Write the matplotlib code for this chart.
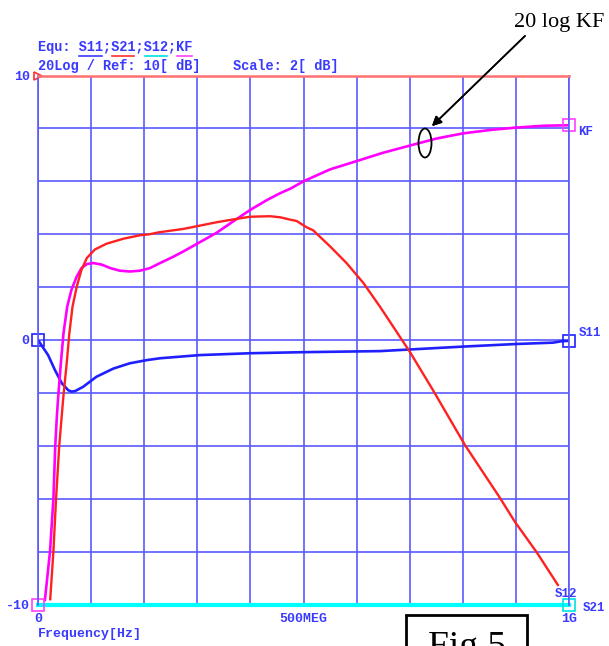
import matplotlib
matplotlib.use("Agg")
import matplotlib.pyplot as plt
from matplotlib.lines import Line2D
from matplotlib.patches import Ellipse, Rectangle

# traces (freq in MHz, level in dB)
s21_freq = [23, 29, 34, 40, 47.7, 54, 59, 65, 73, 82, 92, 107, 129, 161, 192, 211, 227,
            274, 336, 368, 399, 437, 456, 475, 487, 506, 518, 550, 581, 613, 644, 700,
            744, 804, 870, 898, 940, 979]
s21_db = [-9.8, -8.0, -6.0, -4.0, -2.15, -0.89, 0.25, 1.26, 2.02, 2.66, 3.1, 3.42, 3.64,
          3.83, 3.96, 4.0, 4.07, 4.2, 4.45, 4.56, 4.66, 4.68, 4.64, 4.55, 4.5, 4.26, 4.15,
          3.54, 2.91, 2.15, 1.26, -0.44, -1.9, -3.97, -5.97, -6.87, -8.05, -9.26]

kf_freq = [13, 22.6, 29, 32.5, 35.5, 38, 43, 48, 55, 63, 73, 82, 92, 104, 120, 136, 154,
           173, 192, 211, 230, 255, 274, 305, 336, 368, 399, 431, 456, 475, 501, 550, 601,
           650, 702, 751, 800, 851, 900, 952, 1000]
kf_db = [-9.83, -8.0, -6.0, -4.0, -2.9, -2.15, -0.89, 0.25, 1.26, 1.9, 2.4, 2.72, 2.87,
         2.91, 2.85, 2.72, 2.62, 2.59, 2.62, 2.72, 2.91, 3.15, 3.35, 3.7, 4.05, 4.49, 4.91,
         5.29, 5.55, 5.72, 6.01, 6.45, 6.77, 7.08, 7.36, 7.62, 7.81, 7.94, 8.03, 8.1, 8.12]

s11_freq = [0, 19, 32, 45, 57, 63, 70, 85, 110, 142, 173, 205, 230, 305, 400, 500, 644,
            800, 902, 970, 985, 1000]
s11_db = [0, -0.57, -1.14, -1.64, -1.9, -1.95, -1.93, -1.77, -1.39, -1.08, -0.88, -0.76,
          -0.69, -0.57, -0.5, -0.46, -0.42, -0.25, -0.15, -0.1, -0.05, -0.03]

s12_freq = [0, 1000]
s12_db = [-10, -10]

x_ticks = list(range(0, 1001, 100))
x_tick_labels = ['0', '', '', '', '', '500MEG', '', '', '', '', '1G']
y_ticks = list(range(-10, 11, 2))
y_tick_labels = ['-10', '', '', '', '', '0', '', '', '', '', '10']

W, H = 609, 646
BLUE = '#3a3aff'
MONO = 'Liberation Mono'


def px(x, y):
    return (x / W, 1 - y / H)


fig = plt.figure(figsize=(W / 100, H / 100), dpi=100)
ax = fig.add_axes([38 / W, 1 - 604.5 / H, 531 / W, 529 / H])

ax.set_xlim(0, 1000)
ax.set_ylim(-10, 10)
ax.set_xticks(x_ticks)
ax.set_xticklabels(x_tick_labels)
ax.set_yticks(y_ticks)
ax.set_yticklabels(y_tick_labels)
ax.tick_params(length=0, colors=BLUE, labelsize=9.5, pad=6)
for lab in ax.get_xticklabels() + ax.get_yticklabels():
    lab.set_family(MONO)
    lab.set_weight('bold')
ax.grid(True, color='#5a5aff', lw=1.2)
ax.set_axisbelow(True)
for side in ['left', 'right']:
    ax.spines[side].set_color('#5a5aff')
    ax.spines[side].set_linewidth(1.2)
ax.spines['top'].set_color('#ff7070')
ax.spines['top'].set_linewidth(1.8)
ax.spines['bottom'].set_visible(False)

ax.plot(s12_freq, s12_db, color='#00ffff', lw=3, clip_on=False)
ax.plot(s11_freq, s11_db, color='#2020ff', lw=1.9)
ax.plot(kf_freq, kf_db, color='#ff00ff', lw=1.9)
ax.plot(s21_freq, s21_db, color='#ff2020', lw=1.7)

# reference / end markers
mk = dict(ms=8, mfc='none', mew=1.2, clip_on=False, ls='none')
ax.plot([0], [0], marker='s', mec='#2020ff', **mk)
ax.plot([0], [-10], marker='s', mec='#ff40ff', **mk)
ax.plot([0], [10], marker='>', mec='#ff3030', ms=6, mfc='none', mew=1.2, clip_on=False)
ax.plot([1000], [kf_db[-1]], marker='s', mec='#ff40ff', **mk)
ax.plot([1000], [s11_db[-1]], marker='s', mec='#2020ff', **mk)
ax.plot([1000], [-10], marker='s', mec='#00e0e0', **mk)

# header
txt = dict(family=MONO, weight='bold', color=BLUE, va='center')
fig.text(*px(38, 47), 'Equ: S11;S21;S12;KF', fontsize=9.8, **txt)
fig.text(*px(38, 66), '20Log / Ref: 10[ dB]    Scale: 2[ dB]', fontsize=9.8, **txt)
cw = 8.2
for c0, c1, col in [(5, 8, BLUE), (9, 12, '#ff3030'), (13, 16, '#00e0e0'), (17, 19, '#ff40ff')]:
    x0, y0 = px(38 + c0 * cw, 56)
    x1, _ = px(38 + c1 * cw - 2, 56)
    fig.add_artist(Line2D([x0, x1], [y0, y0], color=col, lw=1.2))

# trace names at the right edge
fig.text(*px(578, 132), 'KF', fontsize=9, **txt)
fig.text(*px(579, 333), 'S11', fontsize=9, **txt)
fig.text(*px(555, 594), 'S12', fontsize=9, **txt)
fig.text(*px(583, 608), 'S21', fontsize=9, **txt)
fig.text(*px(38, 634), 'Frequency[Hz]', fontsize=9.5, **txt)

# annotation
fig.text(*px(559, 22), '20 log KF', family='Liberation Serif', fontsize=16, color='black',
         ha='center', va='center')
fig.add_artist(Ellipse(px(425, 143), 13 / W, 29 / H, fill=False, ec='black', lw=1.3))
fig.add_artist(plt.annotate('', xy=px(430, 128), xytext=px(527, 34), xycoords='figure fraction',
                            arrowprops=dict(arrowstyle='-|>', color='black', lw=1.2,
                                            mutation_scale=14)))

# "Fig 5" box cut by the bottom edge, as in the scan
fig.add_artist(Rectangle(px(406, 660), 121 / W, 45 / H, fill=False, ec='black', lw=2))
fig.text(*px(467, 648), 'Fig 5', family='Liberation Serif', fontsize=27, color='black',
         ha='center', va='center')

fig.savefig('out.png', dpi=100)
